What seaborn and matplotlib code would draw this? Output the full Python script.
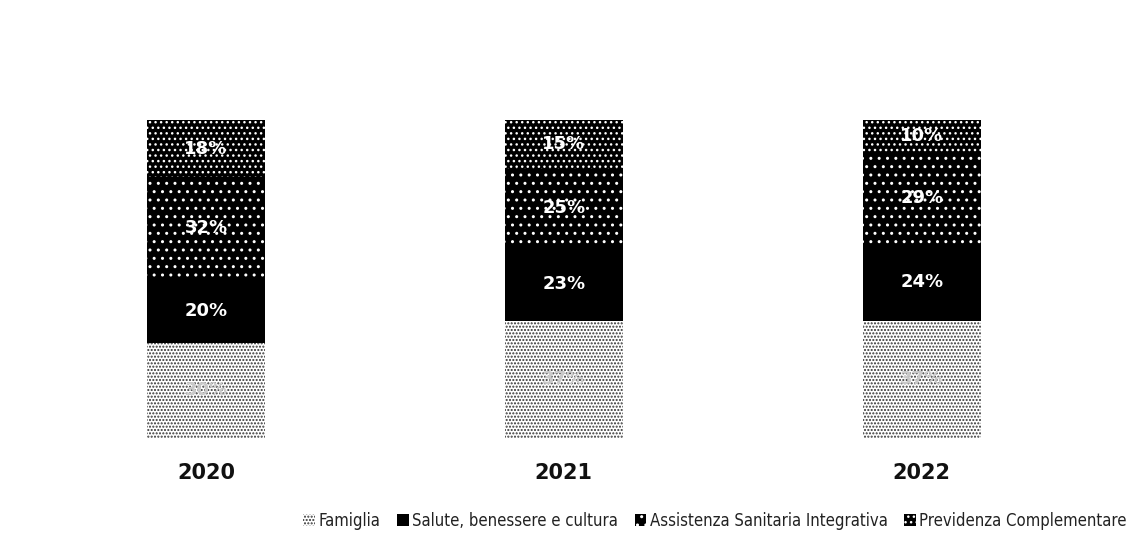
import matplotlib
matplotlib.use("Agg")
import matplotlib.pyplot as plt
from matplotlib.patches import Patch
import seaborn as sns
import numpy as np
import pandas as pd

# Share of welfare spending by area, per year (percent)
years = ["2020", "2021", "2022"]
famiglia = [30, 37, 37]
salute = [20, 23, 24]
assistenza = [32, 25, 29]
previdenza = [18, 15, 10]

series_names = [
    "Famiglia",
    "Salute, benessere e cultura",
    "Assistenza Sanitaria Integrativa",
    "Previdenza Complementare",
]
series_values = [famiglia, salute, assistenza, previdenza]

# face colour, hatch pattern, hatch colour, label colour
styles = [
    ("white", ".....", "#333333", "#c9c9c9"),
    ("black", None, "black", "white"),
    ("black", "..", "white", "white"),
    ("black", "...", "white", "white"),
]

sns.set_theme(style="white")
plt.rcParams["hatch.linewidth"] = 1.0

fig = plt.figure(figsize=(11.29, 5.41), dpi=100)
ax = fig.add_axes([0.0239, 0.190, 0.951, 0.588])

bottom = np.zeros(len(years))
for name, vals, (fc, hatch, hc, tc) in zip(series_names, series_values, styles):
    df = pd.DataFrame({"year": years, "value": vals})
    sns.barplot(data=df, x="year", y="value", order=years, ax=ax,
                color=fc, width=0.33, bottom=bottom, hatch=hatch,
                edgecolor=hc, linewidth=0, errorbar=None,
                saturation=1)
    for i, v in enumerate(vals):
        ax.text(i, bottom[i] + v / 2, f"{v}%", ha="center", va="center",
                color=tc, fontsize=13, fontweight="heavy",
                family="DejaVu Sans")
    bottom = bottom + np.array(vals)

ax.set_xlim(-0.5, 2.5)
ax.set_ylim(0, 100)
ax.set_xlabel("")
ax.set_ylabel("")
ax.set_yticks([])
ax.tick_params(axis="x", length=0, pad=18)
for lab in ax.get_xticklabels():
    lab.set_fontsize(15)
    lab.set_fontweight("bold")
    lab.set_color("#111111")
for s in ax.spines.values():
    s.set_visible(False)

handles = [
    Patch(facecolor=fc, hatch=hatch, edgecolor=hc, linewidth=0, label=n)
    for n, (fc, hatch, hc, tc) in zip(series_names, styles)
]
leg = fig.legend(handles=handles, loc="center", bbox_to_anchor=(715 / 1129, 1 - 521 / 541),
                 ncol=4, frameon=False, handlelength=0.7, handleheight=0.7,
                 handletextpad=0.2, columnspacing=1.0,
                 prop={"family": ["Liberation Sans Narrow", "DejaVu Sans Condensed",
                                  "DejaVu Sans"], "size": 12,
                       "stretch": "condensed"})
for t in leg.get_texts():
    t.set_color("#222222")

fig.savefig("out.png", dpi=100, facecolor="white")
